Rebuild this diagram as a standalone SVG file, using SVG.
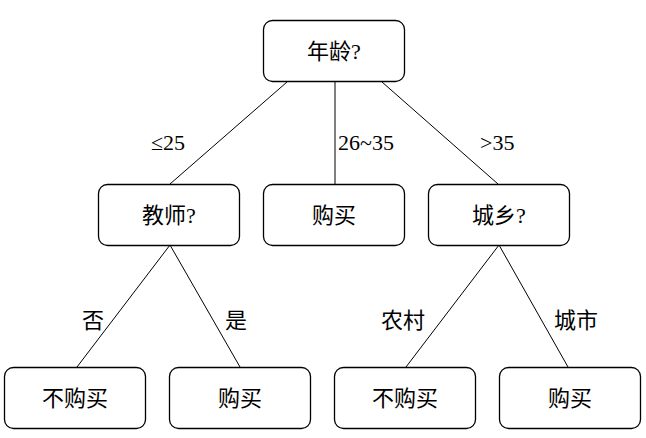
<svg xmlns="http://www.w3.org/2000/svg" width="646" height="438" viewBox="0 0 646 438">
<style>
.box{fill:#fff;stroke:#000;stroke-width:1.3}
.t{font-family:"Liberation Serif","Noto Sans CJK SC",serif;font-size:22px;fill:#000;text-anchor:middle}
.l{font-family:"Liberation Serif","Noto Sans CJK SC",serif;font-size:22px;fill:#000}
.c{stroke:#000;stroke-width:1;fill:none}
</style>
<rect width="646" height="438" fill="#fff"/>
<g id="connectors">
<line class="c" x1="287" y1="82" x2="170" y2="184"/>
<line class="c" x1="335" y1="82" x2="335" y2="184"/>
<line class="c" x1="382" y1="82" x2="498" y2="184"/>
<line class="c" x1="170" y1="245" x2="77" y2="367"/>
<line class="c" x1="170" y1="245" x2="240" y2="367"/>
<line class="c" x1="499" y1="245" x2="406" y2="367"/>
<line class="c" x1="499" y1="245" x2="568" y2="367"/>
<text class="l" x="151" y="150">≤25</text>
<text class="l" x="338" y="150">26~35</text>
<text class="l" x="480" y="150">&gt;35</text>
<text class="l" x="82" y="328">否</text>
<text class="l" x="225" y="328">是</text>
<text class="l" x="381" y="328">农村</text>
<text class="l" x="554" y="328">城市</text>
</g>
<g id="root"><rect class="box" x="263.5" y="20.5" width="141" height="61" rx="9"/><text class="t" x="334" y="59">年龄?</text></g>
<g id="teacher"><rect class="box" x="98.5" y="184.5" width="141" height="61" rx="9"/><text class="t" x="169" y="223">教师?</text></g>
<g id="buy1"><rect class="box" x="263.5" y="184.5" width="141" height="61" rx="9"/><text class="t" x="334" y="223">购买</text></g>
<g id="urban"><rect class="box" x="428.5" y="184.5" width="141" height="61" rx="9"/><text class="t" x="499" y="223">城乡?</text></g>
<g id="nobuy1"><rect class="box" x="4.5" y="367.5" width="141" height="61" rx="9"/><text class="t" x="75" y="406">不购买</text></g>
<g id="buy2"><rect class="box" x="169.5" y="367.5" width="141" height="61" rx="9"/><text class="t" x="240" y="406">购买</text></g>
<g id="nobuy2"><rect class="box" x="334.5" y="367.5" width="141" height="61" rx="9"/><text class="t" x="405" y="406">不购买</text></g>
<g id="buy3"><rect class="box" x="499.5" y="367.5" width="141" height="61" rx="9"/><text class="t" x="570" y="406">购买</text></g>
</svg>
